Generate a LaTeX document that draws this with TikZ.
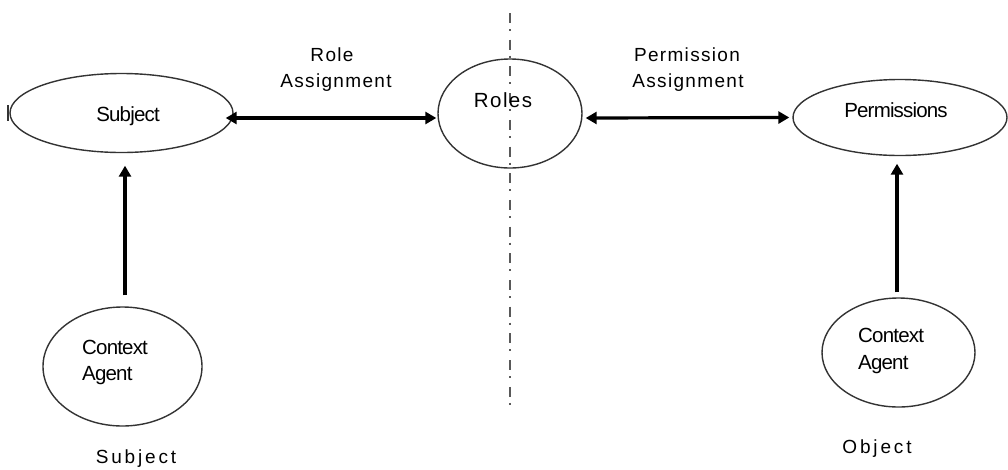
\documentclass[tikz,border=0pt]{standalone}
\usepackage{fontspec}
\setmainfont{Liberation Sans}
\newfontfamily\tightfont[LetterSpace=-4]{Liberation Sans}
\newfontfamily\spacedfont[LetterSpace=7]{Liberation Sans}
\newfontfamily\widefont[LetterSpace=15]{Liberation Sans}
\usetikzlibrary{shapes.geometric,arrows.meta}
\begin{document}
\begin{tikzpicture}[x=1pt,y=-1pt,
  oval/.style={draw=black!80,line width=1.4pt,ellipse,inner sep=0pt,fill=none},
  txt/.style={anchor=base,inner sep=0pt,font=\tightfont\fontsize{20.5}{24}\selectfont},
  lbl/.style={anchor=base,inner sep=0pt,font=\spacedfont\fontsize{19}{22}\selectfont},
  caption/.style={anchor=base,inner sep=0pt,font=\widefont\fontsize{19}{22}\selectfont},
  link/.style={line width=3.2pt,black,{Triangle[length=11pt,width=12pt]}-{Triangle[length=11pt,width=12pt]}},
  feed/.style={line width=3.2pt,black,-{Triangle[length=11pt,width=12pt]}},
  axis/.style={line width=1.8pt,black!65,dash pattern=on 10pt off 6pt on 2pt off 8.7pt}]
\useasboundingbox (0,0) rectangle (1008,469);

% dash-dot separator
\coordinate (sepTop) at (510,13);
\coordinate (sepBot) at (510,408);
\draw[axis] (sepTop) -- (sepBot);

% ellipses
\node[oval,minimum width=223pt,minimum height=79pt] (sub) at (121.5,113) {};
\node[oval,minimum width=144pt,minimum height=109pt] (roles) at (510,113.5) {};
\node[oval,minimum width=214pt,minimum height=76pt] (perm) at (900,117.5) {};
\node[oval,minimum width=159pt,minimum height=119pt] (ctxL) at (122.5,366.5) {};
\node[oval,minimum width=153pt,minimum height=109pt] (ctxR) at (898.5,352.5) {};

% small tick at the left edge of the subject ellipse
\coordinate (tickA) at ([xshift=-1pt,yshift=8pt]sub.west);
\coordinate (tickB) at ([xshift=-1pt,yshift=-8pt]sub.west);
\draw[line width=2pt,black!80] (tickA) -- (tickB);

% texts inside the ellipses
\node[txt] (subT) at (128,121) {Subject};
\node[txt] (rolesT) at (503,107) {\spacedfont Roles};
\node[txt] (permT) at (896,117) {Permissions};
\node[txt,anchor=base west] (ctxL1) at (82,354) {Context};
\node[txt,anchor=base west] (ctxL2) at (82,380) {Agent};
\node[txt,anchor=base west] (ctxR1) at (858,342) {Context};
\node[txt,anchor=base west] (ctxR2) at (858,369) {Agent};

% assignment labels
\node[lbl] (ra1) at (332,61) {Role};
\node[lbl] (ra2) at (336,87) {Assignment};
\node[lbl] (pa1) at (687,61) {Permission};
\node[lbl] (pa2) at (688,87) {Assignment};

% captions
\node[caption] (capS) at (136,463) {Subject};
\node[caption] (capO) at (877,453) {Object};

% connectors
\draw[link] ([xshift=-8pt,yshift=-5pt]sub.east) -- ([xshift=-1pt,yshift=-4.5pt]roles.west);
\draw[link] ([xshift=3pt,yshift=-4.5pt]roles.east) -- ([xshift=-3pt]perm.west);
\draw[feed] ([xshift=2.5pt,yshift=11pt]ctxL.north) -- ([xshift=3.5pt,yshift=-12.5pt]sub.south);
\draw[feed] ([xshift=-1.5pt,yshift=5pt]ctxR.north) -- ([xshift=-3pt,yshift=-7.5pt]perm.south);
\end{tikzpicture}
\end{document}
